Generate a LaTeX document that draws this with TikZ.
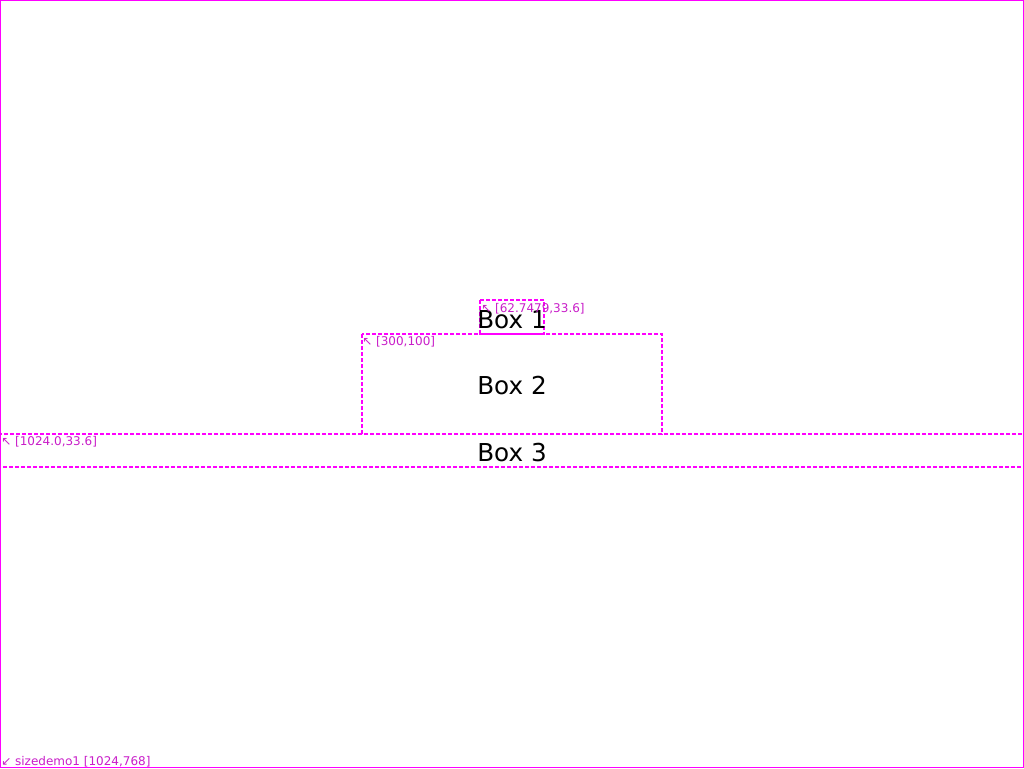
\documentclass[tikz,border=0pt]{standalone}
\usepackage{fontspec}
\setmainfont{DejaVu Sans}
\usepackage{tikz}
\usetikzlibrary{positioning}

\definecolor{frame}{RGB}{255,0,255}
\definecolor{tagcol}{RGB}{200,30,200}

\begin{document}
\begin{tikzpicture}[x=0.75pt,y=-0.75pt,
  boxline/.style={draw=frame,line width=1.3pt,dash pattern=on 3pt off 1.5pt},
  boxtext/.style={inner sep=0pt,font=\fontsize{18.5}{20}\selectfont},
  tag/.style={inner sep=0pt,anchor=west,text=tagcol,font=\fontsize{9}{10}\selectfont}]
\useasboundingbox (0,0) rectangle (1024,768);
\draw[frame,line width=0.75pt] (0.5,0.5) rectangle (1023.5,767.5);

% the three boxes
\draw[boxline] (480,300) rectangle (544,334);
\draw[boxline] (362,334) rectangle (662,434);
\draw[boxline] (0,434) rectangle (1024,467);

\node[boxtext] (t1) at (512,320) {Box 1};
\node[boxtext] (t2) at (512,386) {Box 2};
\node[boxtext] (t3) at (512,453) {Box 3};

% size tags
\node[tag] (s1) at (481,309) {↖ [62.7479,33.6]};
\node[tag] (s2) at (362,342) {↖ [300,100]};
\node[tag] (s3) at (1,442) {↖ [1024.0,33.6]};
\node[tag] (s0) at (1,762) {↙ sizedemo1 [1024,768]};
\end{tikzpicture}
\end{document}
